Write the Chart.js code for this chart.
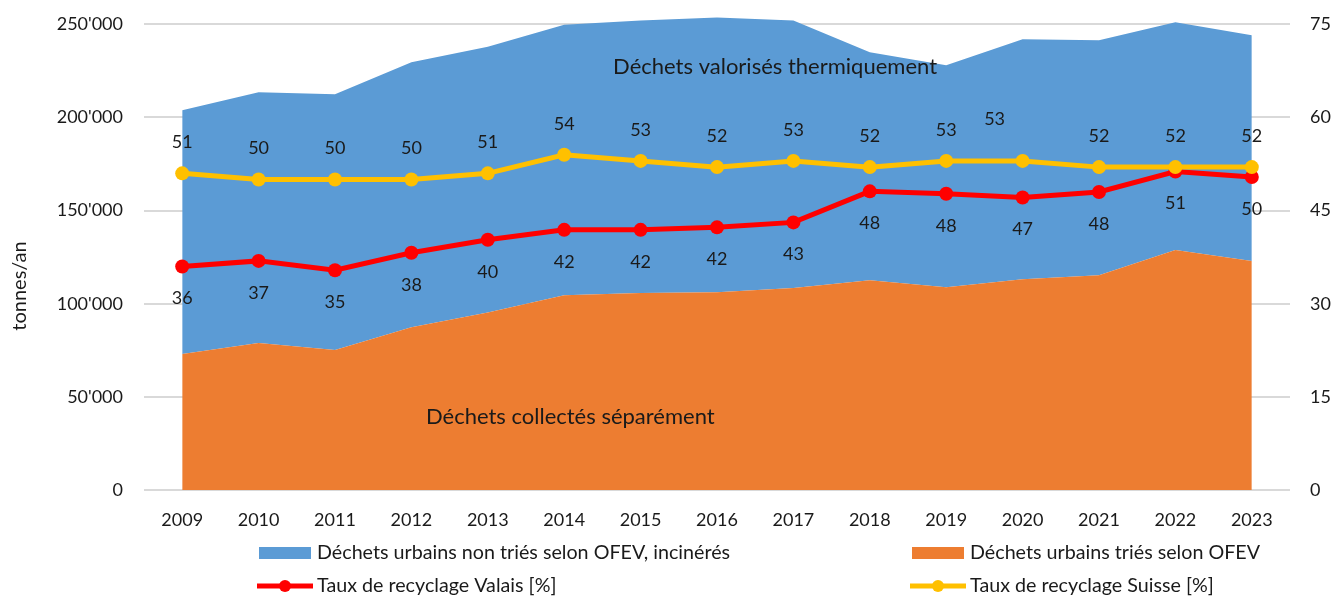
<!DOCTYPE html>
<html>
<head>
<meta charset="utf-8">
<script src="https://cdn.jsdelivr.net/npm/chart.js@4"></script>
<style>
  html, body { margin: 0; padding: 0; background: #fff; }
  #wrap { width: 1336px; height: 597px; }
</style>
</head>
<body>
<div id="wrap"><canvas id="chart" width="1336" height="597"></canvas></div>
<script>
// data
const years = ['2009','2010','2011','2012','2013','2014','2015','2016','2017','2018','2019','2020','2021','2022','2023'];
const sortedTonnes = [73000, 78900, 75100, 87400, 95300, 104600, 105700, 106200, 108400, 112600, 108900, 113200, 115300, 128800, 122900];
const unsortedTonnes = [130900, 134600, 137300, 142200, 142600, 145200, 146300, 147500, 143600, 122400, 119100, 128800, 126100, 122300, 121200];
const rateValais = [36.0, 36.9, 35.4, 38.2, 40.3, 41.9, 41.9, 42.3, 43.1, 48.1, 47.7, 47.1, 48.0, 51.3, 50.4];
const rateSuisse = [51, 50, 50, 50, 51, 54, 53, 52, 53, 52, 53, 53, 52, 52, 52];
const tonnesTicks = [0, 50000, 100000, 150000, 200000, 250000];
const rateTicks = [0, 15, 30, 45, 60, 75];
// a bit of headroom above the top gridline: the area pokes above 250'000
const headroom = 1.02;

const FONT = 'Lato, "Open Sans", sans-serif';
const TXT = '#1a1a1a';

const fmt = v => String(Math.round(v)).replace(/\B(?=(\d{3})+(?!\d))/g, "'");
const setTicks = list => s => { s.ticks = list.map(v => ({ value: v })); };
const noPad = s => { s.paddingTop = 0; s.paddingBottom = 0; };

// point labels: yellow above, red below
const labelPlugin = {
  id: 'pointLabels',
  afterDatasetsDraw(chart) {
    const ctx = chart.ctx;
    ctx.save();
    ctx.font = '18px ' + FONT;
    ctx.fillStyle = TXT;
    ctx.textAlign = 'center';
    ctx.textBaseline = 'middle';
    chart.data.datasets.forEach((ds, di) => {
      if (!ds.showLabels) return;
      const meta = chart.getDatasetMeta(di);
      meta.data.forEach((pt, i) => {
        let dx = 0, dy = ds.showLabels === 'above' ? -31 : 32;
        if (ds.nudge && ds.nudge[i]) { dx = ds.nudge[i][0]; dy = ds.nudge[i][1]; }
        ctx.fillText(Math.round(ds.data[i]), pt.x + dx, pt.y + dy);
      });
    });
    ctx.restore();
  }
};

// area captions, axis title and legend
const extrasPlugin = {
  id: 'extras',
  afterDraw(chart) {
    const ctx = chart.ctx;
    const x = chart.scales.x, y = chart.scales.y;
    ctx.save();
    ctx.fillStyle = TXT;
    ctx.textAlign = 'center';
    ctx.textBaseline = 'middle';
    ctx.font = '22px ' + FONT;
    ctx.fillText('Déchets valorisés thermiquement', x.getPixelForValue(7.76), y.getPixelForValue(227000));
    ctx.fillText('Déchets collectés séparément', x.getPixelForValue(5.08), y.getPixelForValue(39200));

    ctx.font = '20px ' + FONT;
    ctx.translate(20, 286);
    ctx.rotate(-Math.PI / 2);
    ctx.fillText('tonnes/an', 0, 0);
    ctx.restore();

    // legend, two columns
    const ds = chart.data.datasets;
    const items = [
      { d: ds[3], x: 259, y: 553 },
      { d: ds[2], x: 912, y: 553 },
      { d: ds[1], x: 259, y: 586 },
      { d: ds[0], x: 912, y: 586 }
    ];
    ctx.save();
    ctx.font = '19.7px ' + FONT;
    ctx.textBaseline = 'middle';
    ctx.textAlign = 'left';
    items.forEach(it => {
      if (it.d.fill) {
        ctx.fillStyle = it.d.backgroundColor;
        ctx.fillRect(it.x, it.y - 6, 52, 12);
      } else {
        ctx.strokeStyle = it.d.borderColor;
        ctx.lineWidth = 5;
        ctx.beginPath();
        ctx.moveTo(it.x - 2, it.y);
        ctx.lineTo(it.x + 54, it.y);
        ctx.stroke();
        ctx.fillStyle = it.d.borderColor;
        ctx.beginPath();
        ctx.arc(it.x + 26, it.y, 6, 0, Math.PI * 2);
        ctx.fill();
      }
      ctx.fillStyle = TXT;
      ctx.fillText(it.d.label, it.x + 58, it.y);
    });
    ctx.restore();
  }
};

new Chart(document.getElementById('chart'), {
  type: 'line',
  data: {
    labels: years,
    datasets: [
      {
        label: 'Taux de recyclage Suisse [%]',
        data: rateSuisse,
        yAxisID: 'y2',
        borderColor: '#FFC000',
        backgroundColor: '#FFC000',
        borderWidth: 5,
        pointRadius: 7,
        pointBorderWidth: 0,
        pointBackgroundColor: '#FFC000',
        fill: false,
        showLabels: 'above',
        nudge: { 11: [-28, -42] }
      },
      {
        label: 'Taux de recyclage Valais [%]',
        data: rateValais,
        yAxisID: 'y2',
        borderColor: '#FF0000',
        backgroundColor: '#FF0000',
        borderWidth: 5,
        pointRadius: 7,
        pointBorderWidth: 0,
        pointBackgroundColor: '#FF0000',
        fill: false,
        showLabels: 'below'
      },
      {
        label: 'Déchets urbains triés selon OFEV',
        data: sortedTonnes,
        yAxisID: 'y',
        borderWidth: 0,
        pointRadius: 0,
        backgroundColor: '#ED7D31',
        borderColor: '#ED7D31',
        fill: 'origin'
      },
      {
        label: 'Déchets urbains non triés selon OFEV, incinérés',
        data: unsortedTonnes,
        yAxisID: 'y',
        borderWidth: 0,
        pointRadius: 0,
        backgroundColor: '#5B9BD5',
        borderColor: '#5B9BD5',
        fill: '-1'
      }
    ]
  },
  options: {
    responsive: false,
    devicePixelRatio: 1,
    animation: false,
    layout: { padding: { top: 15, left: 0, right: 0, bottom: 0 } },
    plugins: { legend: { display: false }, tooltip: { enabled: false } },
    scales: {
      x: {
        offset: true,
        grid: { display: false, drawTicks: false },
        border: { display: false },
        ticks: { color: TXT, font: { family: FONT, size: 18 }, padding: 19, maxRotation: 0 },
        afterFit(s) { s.height = 107; }
      },
      y: {
        position: 'left',
        stacked: true,
        min: 0, max: tonnesTicks[tonnesTicks.length - 1] * headroom,
        grid: { color: '#d9d9d9', lineWidth: 2, drawTicks: false },
        border: { display: false },
        ticks: { color: TXT, font: { family: FONT, size: 18 }, padding: 21, callback: v => fmt(v) },
        afterBuildTicks: setTicks(tonnesTicks),
        afterFit(s) { s.width = 144; noPad(s); }
      },
      y2: {
        position: 'right',
        stacked: false,
        min: 0, max: rateTicks[rateTicks.length - 1] * headroom,
        grid: { display: false, drawTicks: false },
        border: { display: false },
        ticks: { color: TXT, font: { family: FONT, size: 18 }, padding: 20 },
        afterBuildTicks: setTicks(rateTicks),
        afterFit(s) { s.width = 46; noPad(s); }
      }
    }
  },
  plugins: [labelPlugin, extrasPlugin]
});
</script>
</body>
</html>
